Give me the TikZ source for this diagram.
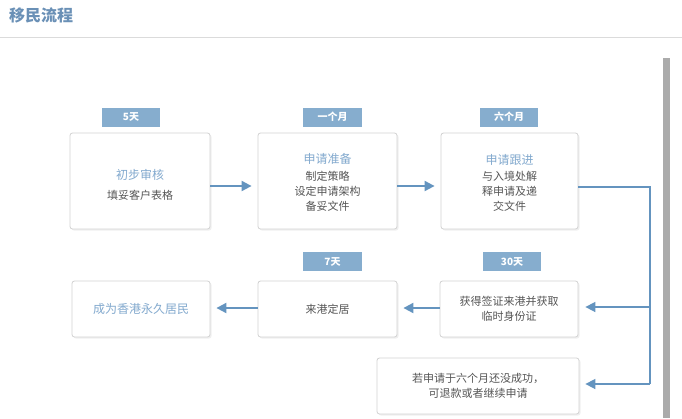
\documentclass[tikz,border=0pt]{standalone}
\usepackage{fontspec}
\setmainfont{Noto Sans CJK SC}
\usetikzlibrary{arrows.meta,shadows}
\definecolor{titleblue}{HTML}{6A90B6}
\definecolor{headblue}{HTML}{82A9CE}
\definecolor{tagblue}{HTML}{86ADCE}
\definecolor{arrblue}{HTML}{6494BF}
\definecolor{bordergray}{HTML}{D2D2D2}
\definecolor{textgray}{HTML}{555555}
\tikzset{
  card/.style={draw=bordergray, line width=0.8pt, fill=white, rounded corners=2.5pt,
    drop shadow={opacity=0.13, shadow xshift=1.5pt, shadow yshift=-1.5pt},
    align=center, text=textgray, inner sep=0pt,
    font=\fontsize{11}{15}\selectfont},
  tag/.style={fill=tagblue, text=white, inner sep=0pt, minimum height=19pt,
    font=\fontsize{10}{12}\selectfont\bfseries},
  arr/.style={draw=arrblue, line width=2pt, -{Triangle[length=10pt,width=10pt]}},
  link/.style={draw=arrblue, line width=1.6pt}
}
\begin{document}
\begin{tikzpicture}[x=1pt,y=-1pt]
\useasboundingbox (0,0) rectangle (682,418);
% header
\node[anchor=west, inner sep=0pt, text=titleblue, font=\fontsize{16}{18}\selectfont\bfseries] (title) at (9,15) {移民流程};
\draw[draw=bordergray!80, line width=0.8pt] (0,37) -- (682,37);
\fill[fill=black!33] (663,58) rectangle (670,418);
% row 1
\node[card, minimum width=140pt, minimum height=96pt] (b1) at (140,181)
  {{\color{headblue}\fontsize{12}{15}\selectfont\rule{0pt}{17pt}初步审核}\\[5pt]填妥客户表格};
\node[card, minimum width=139pt, minimum height=96pt] (b2) at (327.5,181)
  {{\color{headblue}\fontsize{12}{15}\selectfont\rule{0pt}{13pt}申请准备}\\[2pt]制定策略\\设定申请架构\\备妥文件};
\node[card, minimum width=137pt, minimum height=96pt] (b3) at (509.5,181)
  {{\color{headblue}\fontsize{12}{15}\selectfont\rule{0pt}{13pt}申请跟进}\\[1pt]与入境处解\\释申请及递\\交文件};
\node[tag, minimum width=58pt] (t1) at (131,117) {5天};
\node[tag, minimum width=59pt] (t2) at (332.5,117) {一个月};
\node[tag, minimum width=58pt] (t3) at (509,117) {六个月};
% row 2
\node[card, minimum width=138pt, minimum height=56pt] (c1) at (141,309)
  {{\color{headblue}\fontsize{12}{15}\selectfont 成为香港永久居民}};
\node[card, minimum width=139pt, minimum height=56pt] (c2) at (327.5,309) {来港定居};
\node[card, minimum width=138pt, minimum height=56pt] (c3) at (509,309) {获得签证来港并获取\\临时身份证};
\node[card, minimum width=202pt, minimum height=56pt] (d) at (478,386) {若申请于六个月还没成功，\\可退款或者继续申请};
\node[tag, minimum width=59pt] (t4) at (332.5,261.5) {7天};
\node[tag, minimum width=58pt] (t5) at (512,261.5) {30天};
% connectors
\draw[arr, shorten >=6pt] ([yshift=-5pt]b1.east) -- ([yshift=-5pt]b2.west);
\draw[arr, shorten >=6pt] ([yshift=-5pt]b2.east) -- ([yshift=-5pt]b3.west);
\draw[arr, shorten >=6pt] ([yshift=1pt]c2.west) -- ([yshift=1pt]c1.east);
\draw[arr, shorten >=6pt] ([yshift=1pt]c3.west) -- ([yshift=1pt]c2.east);
\coordinate (j1) at (650,187);
\coordinate (j2) at (650,307);
\coordinate (j3) at (650,384);
\draw[link] ([yshift=-6pt]b3.east) -- (j1) -- (j3);
\draw[arr, line width=1.6pt, shorten >=7pt] (j2) -- (c3.east |- j2);
\draw[arr, line width=1.6pt, shorten >=6pt] (j3) -- (d.east |- j3);
\end{tikzpicture}
\end{document}
